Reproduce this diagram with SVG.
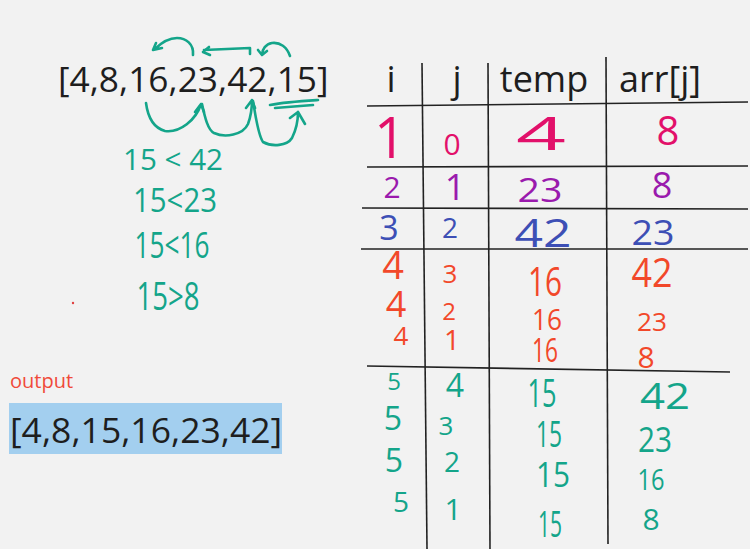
<svg xmlns="http://www.w3.org/2000/svg" width="750" height="549" viewBox="0 0 750 549">
<style>
.t{font-family:"Open Sans","Liberation Sans",sans-serif;fill:#1e1e1e}
.h{font-family:"Open Sans","Liberation Sans",sans-serif;text-anchor:middle}
.pk{fill:#e2106a}.pu{fill:#9a1aad}.bl{fill:#3d4fb5}.or{fill:#f2482a}.gr{fill:#14a58a}
.ln{stroke:#222;stroke-width:1.6;fill:none}
.ar{stroke:#14a58a;stroke-width:2.6;fill:none;stroke-linecap:round;stroke-linejoin:round}
</style>
<rect width="750" height="549" fill="#f2f2f2"/>
<g id="array">
<text class="t" x="58" y="92" font-size="35.3">[4,8,16,23,42,15]</text>
</g>
<g id="connectors">
<path class="ar" d="M193,55 C194,44 186,38 177,38 C168,38 162,42 155,49 M153,50 L162,48 M153,50 L156,43"/>
<path class="ar" d="M250,54 L250,48 L204,50 M203,52 L209,47 M203,52 L210,55"/>
<path class="ar" d="M290,56 C287,47 280,42 272,43 C266,44 262,49 262,55 M262,55 L258,50 M262,55 L267,51"/>
<path class="ar" d="M146,103 C148,118 154,128 165,131 C180,133 196,120 201,104 M201,104 L195,112 M201,104 L204,112"/>
<path class="ar" d="M202,104 C205,118 208,130 214,133 C225,138 243,135 248,124 C251,116 252,108 252,100 M252,100 L246,108 M252,100 L255,108"/>
<path class="ar" d="M253,101 C256,118 258,135 263,142 C272,147 287,146 292,138 C296,130 298,120 298,112 M298,112 L290,118 M298,112 L305,124"/>
<path class="ar" d="M270,105 C285,102 302,101 318,100 M275,108 C288,107 300,106 313,105" stroke-width="3.5"/>
</g>
<g id="notes">
<text class="h gr" x="173" y="170" font-size="30" textLength="100" lengthAdjust="spacingAndGlyphs">15 &lt; 42</text>
<text class="h gr" x="175" y="212" font-size="32" textLength="84" lengthAdjust="spacingAndGlyphs">15&lt;23</text>
<text class="h gr" x="172" y="258" font-size="36" textLength="75" lengthAdjust="spacingAndGlyphs">15&lt;16</text>
<text class="h gr" x="168" y="310" font-size="38" textLength="63" lengthAdjust="spacingAndGlyphs">15&gt;8</text>
<circle cx="73" cy="303" r="1.2" fill="#e04040"/>
</g>
<g id="table-lines">
<path class="ln" d="M422,63 L427,549"/>
<path class="ln" d="M488,63 L490,549"/>
<path class="ln" d="M606,57 L608,544"/>
<path class="ln" d="M367,106 L748,102"/>
<path class="ln" d="M367,167 L748,166"/>
<path class="ln" d="M362,208 L748,209"/>
<path class="ln" d="M361,249 L748,249"/>
<path class="ln" d="M367,366 L730,372"/>
</g>
<g id="table-header">
<text class="h" x="391" y="92" font-size="36" fill="#1e1e1e">i</text>
<text class="h" x="457" y="92" font-size="36" fill="#1e1e1e">j</text>
<text class="h" x="544" y="92" font-size="36" fill="#1e1e1e">temp</text>
<text class="h" x="660" y="92" font-size="36" fill="#1e1e1e">arr[j]</text>
</g>
<g id="row1">
<text class="h pk" x="390" y="158" font-size="56">1</text>
<text class="h pk" x="452" y="155" font-size="30">0</text>
<text class="h pk" x="541" y="150" font-size="46" textLength="50" lengthAdjust="spacingAndGlyphs">4</text>
<text class="h pk" x="668" y="145" font-size="40">8</text>
</g>
<g id="row2">
<text class="h pu" x="392" y="198" font-size="30">2</text>
<text class="h pu" x="455" y="200" font-size="36">1</text>
<text class="h pu" x="540" y="202" font-size="32" textLength="45" lengthAdjust="spacingAndGlyphs">23</text>
<text class="h pu" x="662" y="198" font-size="36">8</text>
</g>
<g id="row3">
<text class="h bl" x="389" y="240" font-size="34">3</text>
<text class="h bl" x="450" y="238" font-size="28">2</text>
<text class="h bl" x="543" y="247" font-size="38" textLength="57" lengthAdjust="spacingAndGlyphs">42</text>
<text class="h bl" x="653" y="245" font-size="34" textLength="43" lengthAdjust="spacingAndGlyphs">23</text>
</g>
<g id="row4">
<text class="h or" x="393" y="279" font-size="38">4</text>
<text class="h or" x="450" y="283" font-size="26">3</text>
<text class="h or" x="545" y="296" font-size="40" textLength="34" lengthAdjust="spacingAndGlyphs">16</text>
<text class="h or" x="652" y="287" font-size="40" textLength="41" lengthAdjust="spacingAndGlyphs">42</text>
<text class="h or" x="396" y="317" font-size="36">4</text>
<text class="h or" x="449" y="320" font-size="24">2</text>
<text class="h or" x="547" y="330" font-size="30" textLength="30" lengthAdjust="spacingAndGlyphs">16</text>
<text class="h or" x="652" y="331" font-size="26" textLength="30" lengthAdjust="spacingAndGlyphs">23</text>
<text class="h or" x="401" y="345" font-size="26">4</text>
<text class="h or" x="452" y="350" font-size="28">1</text>
<text class="h or" x="545" y="362" font-size="32" textLength="26" lengthAdjust="spacingAndGlyphs">16</text>
<text class="h or" x="646" y="368" font-size="30">8</text>
</g>
<g id="row5">
<text class="h gr" x="394" y="390" font-size="24">5</text>
<text class="h gr" x="455" y="397" font-size="32">4</text>
<text class="h gr" x="542" y="407" font-size="38" textLength="29" lengthAdjust="spacingAndGlyphs">15</text>
<text class="h gr" x="665" y="409" font-size="36" textLength="50" lengthAdjust="spacingAndGlyphs">42</text>
<text class="h gr" x="393" y="430" font-size="32">5</text>
<text class="h gr" x="446" y="435" font-size="26">3</text>
<text class="h gr" x="549" y="447" font-size="36" textLength="26" lengthAdjust="spacingAndGlyphs">15</text>
<text class="h gr" x="655" y="452" font-size="34" textLength="34" lengthAdjust="spacingAndGlyphs">23</text>
<text class="h gr" x="394" y="472" font-size="32">5</text>
<text class="h gr" x="452" y="472" font-size="28">2</text>
<text class="h gr" x="553" y="487" font-size="34" textLength="34" lengthAdjust="spacingAndGlyphs">15</text>
<text class="h gr" x="651" y="490" font-size="30" textLength="27" lengthAdjust="spacingAndGlyphs">16</text>
<text class="h gr" x="401" y="512" font-size="28">5</text>
<text class="h gr" x="453" y="520" font-size="30">1</text>
<text class="h gr" x="550" y="537" font-size="36" textLength="24" lengthAdjust="spacingAndGlyphs">15</text>
<text class="h gr" x="651" y="530" font-size="30">8</text>
</g>
<g id="output">
<text x="10" y="388" font-family="'Open Sans','Liberation Sans',sans-serif" font-size="20" fill="#f04a3a">output</text>
<rect x="9" y="403" width="273" height="51" fill="#a3cfef"/>
<text class="t" x="10" y="443" font-size="35.5">[4,8,15,16,23,42]</text>
</g>
</svg>
